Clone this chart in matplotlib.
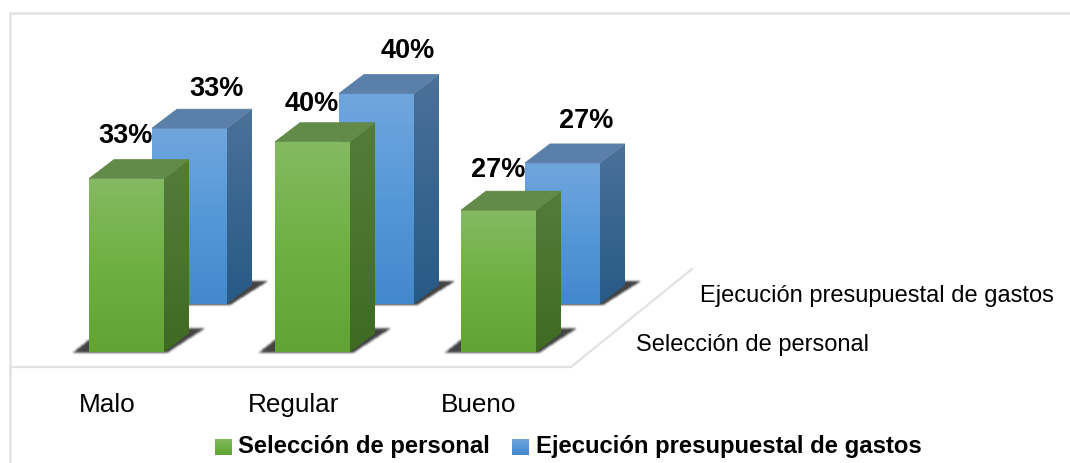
import numpy as np
import matplotlib
matplotlib.use("Agg")
import matplotlib.pyplot as plt
from matplotlib.patches import Polygon
from matplotlib.path import Path
from matplotlib.colors import LinearSegmentedColormap

categories = ["Malo", "Regular", "Bueno"]
series_names = ["Selección de personal", "Ejecución presupuestal de gastos"]
seleccion = [33.0, 40.0, 27.0]
ejecucion = [33.4, 40.0, 26.8]

plt.rcParams['font.family'] = ['Liberation Sans', 'DejaVu Sans']

W, H = 1070, 463
PX = 5.265  # pixeles por cada 1%
BASE_FRONT = 352.3
BAR_W = 75
DX, DY = 25, 19

fig = plt.figure(figsize=(W / 100, H / 100), dpi=100)
ax = fig.add_axes([0, 0, 1, 1])


def py(pix, base=BASE_FRONT):
    # pixel vertical -> unidades de porcentaje
    return (base - pix) / PX


ax.axis("off")

# marco y piso
frame = "#e2e2e2"
ax.plot([10, 10, W], [py(H), py(13.5), py(13.5)], color=frame, lw=1.8, solid_joinstyle="miter")
ax.plot([10, 571, 692], [py(367), py(367), py(269)], color=frame, lw=1.6)


def grad(cols, poly_pts, z):
    cmap = LinearSegmentedColormap.from_list("g", cols)
    xs = [p[0] for p in poly_pts]
    ys = [p[1] for p in poly_pts]
    im = ax.imshow(np.linspace(0, 1, 128).reshape(-1, 1), cmap=cmap, aspect="auto",
                   extent=[min(xs), max(xs), min(ys), max(ys)], origin="upper",
                   zorder=z, interpolation="bilinear")
    im.set_clip_path(Polygon(poly_pts, closed=True, transform=ax.transData))


def shadow(x, y0, z):
    # sombra difusa: mascara del poligono suavizada
    pts = [(x - 17, y0 - 1.5 / PX), (x, y0 + 12 / PX), (x + BAR_W + DX, y0 + 23 / PX),
           (x + BAR_W + 41, y0 + 23 / PX), (x + BAR_W + 3, y0 - 1.5 / PX)]
    x0, x1 = x - 30, x + BAR_W + 56
    top_px, bot_px = 32, 10  # margen en pixeles alrededor de la base
    y_lo, y_hi = y0 - bot_px / PX, y0 + top_px / PX
    nx, ny = x1 - x0, top_px + bot_px
    gx, gy = np.meshgrid(np.linspace(x0, x1, nx), np.linspace(y_hi, y_lo, ny))
    mask = Path(pts).contains_points(np.c_[gx.ravel(), gy.ravel()]).reshape(gy.shape).astype(float)
    kernel = np.array([1, 4, 6, 4, 1]) / 16
    mask = np.apply_along_axis(lambda r: np.convolve(r, kernel, mode="same"), 0, mask)
    mask = np.apply_along_axis(lambda r: np.convolve(r, kernel, mode="same"), 1, mask)
    rgba = np.zeros(mask.shape + (4,))
    rgba[..., :3] = 0.13
    rgba[..., 3] = mask * 0.85
    ax.imshow(rgba, aspect="auto", extent=[x0, x1, y_lo, y_hi], origin="upper", zorder=z,
              interpolation="bilinear")


def bar3d(x, val, y0, front, side, top, z):
    shadow(x, y0, z)
    t = y0 + val
    dy = DY / PX
    grad(front, [(x, y0), (x + BAR_W, y0), (x + BAR_W, t), (x, t)], z + 1)
    grad(side, [(x + BAR_W, y0), (x + BAR_W + DX, y0 + dy), (x + BAR_W + DX, t + dy), (x + BAR_W, t)], z + 1)
    ax.add_patch(Polygon([(x, t), (x + BAR_W, t), (x + BAR_W + DX, t + dy), (x + DX, t + dy)],
                         closed=True, fc=top, ec=top, lw=0.5, zorder=z + 1))


green_front = ["#84ba62", "#6fb043", "#62a335"]
green_side = ["#557b3b", "#4a7430", "#3e6a22"]
blue_front = ["#70a6de", "#5598d8", "#4488cc"]
blue_side = ["#4c7199", "#38658f", "#285a87"]

x_green = [89, 275, 461]
x_blue = [152, 339, 525]
base_blue = py(304)

label_dx_blue = [65, 69, 61]
label_dy_blue = [39, 42, 42]
label_dx_green = [37, 37, 37]
label_dy_green = [43, 38, 40]

for i in range(len(categories)):
    bar3d(x_blue[i], ejecucion[i], base_blue, blue_front, blue_side, "#5a80a9", 2 + i * 4)
    ax.text(x_blue[i] + label_dx_blue[i], base_blue + ejecucion[i] + label_dy_blue[i] / PX,
            f"{ejecucion[i]:.0f}%", ha="center", va="center",
            fontsize=19.5, fontweight="bold", color="black", zorder=40)
for i in range(len(categories)):
    bar3d(x_green[i], seleccion[i], 0, green_front, green_side, "#628a48", 20 + i * 4)
    ax.text(x_green[i] + label_dx_green[i], seleccion[i] + label_dy_green[i] / PX,
            f"{seleccion[i]:.0f}%", ha="center", va="center",
            fontsize=19.5, fontweight="bold", color="black", zorder=40)

# etiquetas de ejes
x_cat = [107, 294, 479]
for xc, c in zip(x_cat, categories):
    ax.text(xc, py(405), c, ha="center", va="center", fontsize=18.8, color="black")
ax.text(636, py(345), series_names[0], ha="left", va="center", fontsize=17, color="black")
ax.text(700, py(296), series_names[1], ha="left", va="center", fontsize=17, color="black")

# leyenda
def legend_box(x, cols):
    grad(cols, [(x, py(455)), (x + 17, py(455)), (x + 17, py(439)), (x, py(439))], 45)


legend_box(215, green_front)
legend_box(512, blue_front)
ax.text(238, py(447), series_names[0], ha="left", va="center", fontsize=17.2, fontweight="bold", color="black")
ax.text(536, py(447), series_names[1], ha="left", va="center", fontsize=17.2, fontweight="bold", color="black")

ax.set_xlim(0, W)
ax.set_ylim(py(H), py(0))
fig.savefig("out.png", dpi=100)
